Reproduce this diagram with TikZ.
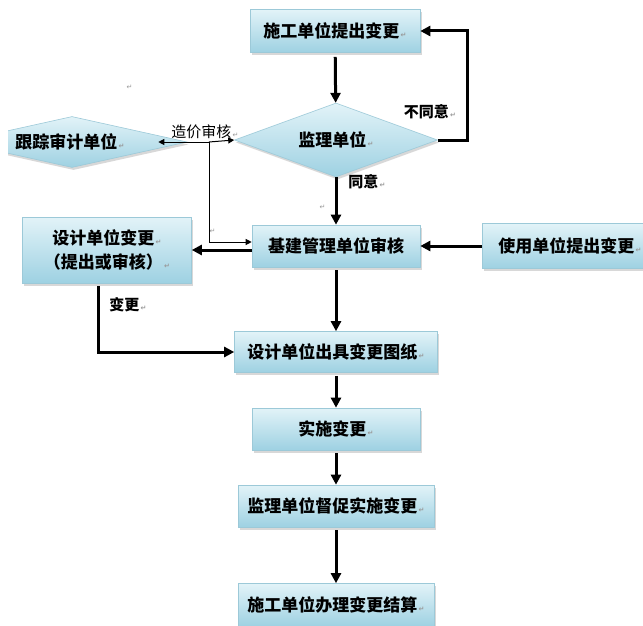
\documentclass[tikz,border=0pt]{standalone}
\usepackage{fontspec}
\newfontfamily\cjk{Noto Sans CJK SC}
\newfontfamily\dvs{DejaVu Sans}
\usetikzlibrary{shapes.geometric,arrows.meta,shadows}
\definecolor{boxtop}{HTML}{E2F3F8}
\definecolor{boxbot}{HTML}{9ED1E2}
\definecolor{boxedge}{HTML}{9CC9D8}
\newcommand{\rmk}{{\dvs\fontsize{7}{7}\selectfont\color{gray!80}\,↵}}
\begin{document}
\begin{tikzpicture}[x=1pt,y=-1pt,
  flowbox/.style={rectangle, draw=boxedge, line width=0.6pt, top color=boxtop, bottom color=boxbot,
    drop shadow={shadow xshift=1.5pt, shadow yshift=-2.5pt, fill=black!30},
    inner sep=2pt, align=center, font=\cjk\bfseries\fontsize{17}{24}\selectfont},
  flowdiam/.style={diamond, draw=boxedge, line width=0.6pt, top color=boxtop, bottom color=boxbot,
    drop shadow={shadow xshift=1.5pt, shadow yshift=-2.5pt, fill=black!30},
    inner sep=0pt, align=center, font=\cjk\bfseries\fontsize{17}{24}\selectfont},
  lab/.style={inner sep=1pt, font=\cjk\bfseries\fontsize{15}{18}\selectfont},
  zlab/.style={inner sep=1pt, font=\cjk\fontsize{15}{18}\selectfont},
  bigarrow/.style={line width=3pt, -{Triangle[length=10pt,width=10pt]}},
  thinarrow/.style={line width=1pt, -{Triangle[length=6pt,width=6pt]}}]
\useasboundingbox (0,0) rectangle (643,626);
\fill[white] (0,0) rectangle (643,626);

% nodes
\node[flowbox, minimum width=170pt, minimum height=43pt] (sg) at (335,31) {施工单位提出变更\rmk};
\node[flowdiam, aspect=2.74, minimum width=203pt, minimum height=74pt] (jl) at (336,140) {监理单位\rmk};
\begin{scope}
  \clip (8,0) rectangle (643,626);
  \node[flowdiam, aspect=4.5, minimum width=230pt, minimum height=51pt] (gz) at (72,142) {\hspace*{-4pt}跟踪审计单位\rmk};
\end{scope}
\node[flowbox, minimum width=169pt, minimum height=66pt] (sj) at (107,250) {设计单位变更\rmk\\（提出或审核）\rmk};
\node[flowbox, minimum width=168pt, minimum height=42pt] (jj) at (336,246) {基建管理单位审核};
\node[flowbox, minimum width=176pt, minimum height=45pt] (sy) at (570,246) {使用单位提出变更\rmk};
\node[flowbox, minimum width=203pt, minimum height=41pt] (cj) at (336,352) {设计单位出具变更图纸\rmk};
\node[flowbox, minimum width=168pt, minimum height=42pt] (ss) at (336,429) {实施变更\rmk};
\node[flowbox, minimum width=196pt, minimum height=42pt] (dc) at (336,506) {监理单位督促实施变更\rmk};
\node[flowbox, minimum width=196pt, minimum height=43pt] (js) at (336,605) {施工单位办理变更结算\rmk};

% labels
\node[lab] (bty) at (430,112) {不同意\rmk};
\node[lab] (ty) at (367,182) {同意\rmk};
\node[lab] (bg) at (128,305) {变更\rmk};
\node[zlab] (zjt) at (205,132) {造价审核\rmk};
\node[inner sep=0pt] (m1) at (129,87) {\rmk};
\node[inner sep=0pt] (m2) at (322,207) {\rmk};
\node[inner sep=0pt] (m3) at (212,231) {\rmk};
\coordinate (zj) at (209,142);

% connectors
\draw[bigarrow, shorten <=4pt] (sg) -- (jl);
\draw[bigarrow] (jl.east) -- ++(30,0) |- (sg.east);
\draw[bigarrow] (jl.south) -- (jl.south |- jj.north);
\draw[bigarrow] (sy) -- (jj);
\draw[bigarrow] ([yshift=-4pt]jj.west) -- ([yshift=-4pt]jj.west -| sj.east);
\draw[thinarrow] (zj) |- ([yshift=4pt]jj.west);
\draw[thinarrow] (zj) -- ([xshift=-29pt]gz.east);
\draw[thinarrow] (zj) -- (jl.west);
\draw[bigarrow, shorten <=3pt] ([xshift=-9pt]sj.south) |- (cj.west);
\draw[bigarrow, shorten <=3pt] (jj) -- (cj);
\draw[bigarrow, shorten <=3pt] (cj) -- (ss);
\draw[bigarrow, shorten <=3pt] (ss) -- (dc);
\draw[bigarrow, shorten <=3pt] (dc) -- (js);
\end{tikzpicture}
\end{document}
